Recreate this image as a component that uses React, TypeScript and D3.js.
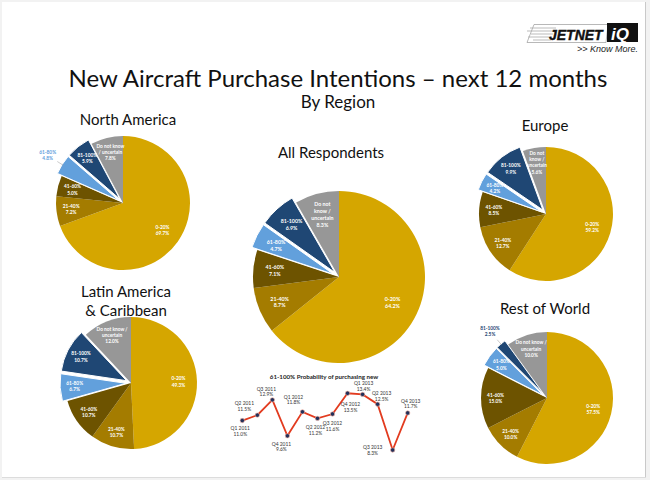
import React from 'react';
import * as d3 from 'd3';

// ---------- DATA ----------
const categories = ['0-20%', '21-40%', '41-60%', '61-80%', '81-100%', 'Do not know / uncertain'];
const northAmerica = [69.7, 7.2, 5.0, 4.8, 5.9, 7.8];
const europe = [59.2, 12.7, 8.5, 4.2, 9.9, 5.6];
const allRespondents = [64.2, 8.7, 7.1, 4.7, 6.9, 8.3];
const latinAmerica = [49.3, 10.7, 10.7, 6.7, 10.7, 12.0];
const restOfWorld = [57.5, 10.0, 15.0, 5.0, 2.5, 10.0];

// how the "Do not know / uncertain" label wraps in each pie
const dnkNorthAmerica = ['Do not know', '/ uncertain'];
const dnkEurope = ['Do not', 'know /', 'uncertain'];
const dnkAll = ['Do not', 'know /', 'uncertain'];
const dnkLatin = ['Do not know /', 'uncertain'];
const dnkRest = ['Do not know /', 'uncertain'];

const quarters = ['Q1 2011', 'Q2 2011', 'Q3 2011', 'Q4 2011', 'Q1 2012', 'Q2 2012', 'Q3 2012', 'Q4 2012', 'Q1 2013', 'Q2 2013', 'Q3 2013', 'Q4 2013'];
const probability = [11.0, 11.5, 12.9, 9.6, 11.8, 11.2, 11.6, 13.5, 13.4, 12.5, 8.3, 11.7];

// ---------- STYLE / LAYOUT ----------
const sliceColors = ['#D5A600', '#A47C00', '#6D5300', '#62A0DC', '#1F4774', '#979797'];
const explodedSlices = [3, 4];
const FONT = 'Lato, "Open Sans", "Liberation Sans", sans-serif';

// label offsets (dx, dy of first line centre) for the line chart
const lineLabelOffsets: [number, number][] = [
  [-2, 8], [-13, -12], [-6, -11], [-6, 8], [-9, -15], [-2, 9],
  [0, 9], [3, 11], [1, -11], [4, -11], [-20, -3], [3, -12],
];

type PieCfg = {
  title: string[];
  titleX: number;
  titleY: number;
  values: number[];
  dnk: string[];
  cx: number;
  cy: number;
  r: number;
  explode: number;
  font: number;
  outside: number | null;
  labelFrac: number;
};

const pies: PieCfg[] = [
  { title: ['North America'], titleX: 128, titleY: 125, values: northAmerica, dnk: dnkNorthAmerica, cx: 123, cy: 203, r: 67, explode: 5, font: 4.8, outside: 3, labelFrac: 0.78 },
  { title: ['Europe'], titleX: 545, titleY: 131, values: europe, dnk: dnkEurope, cx: 546, cy: 214, r: 67, explode: 5, font: 4.8, outside: null, labelFrac: 0.78 },
  { title: ['All Respondents'], titleX: 331, titleY: 158, values: allRespondents, dnk: dnkAll, cx: 339, cy: 277, r: 86, explode: 6, font: 5.3, outside: null, labelFrac: 0.75 },
  { title: ['Latin America', '& Caribbean'], titleX: 126, titleY: 297, values: latinAmerica, dnk: dnkLatin, cx: 131, cy: 383, r: 66, explode: 5, font: 4.8, outside: null, labelFrac: 0.78 },
  { title: ['Rest of World'], titleX: 545, titleY: 314, values: restOfWorld, dnk: dnkRest, cx: 547, cy: 398, r: 66, explode: 5, font: 4.8, outside: 4, labelFrac: 0.78 },
];

function PieChart({ cfg }: { cfg: PieCfg }) {
  const pie = d3.pie<number>().sort(null).value((d) => d);
  const arcs = pie(cfg.values);
  const arc = d3.arc<d3.PieArcDatum<number>>().innerRadius(0).outerRadius(cfg.r);
  return (
    <g>
      {cfg.title.map((t, i) => (
        <text key={i} x={cfg.titleX} y={cfg.titleY + i * 19} textAnchor="middle" fontFamily={FONT} fontSize={15} fill="#111">
          {t}
        </text>
      ))}
      <g transform={`translate(${cfg.cx},${cfg.cy})`}>
        {arcs.map((a, i) => {
          const mid = (a.startAngle + a.endAngle) / 2;
          const ex = explodedSlices.includes(i) ? cfg.explode : 0;
          const dx = Math.sin(mid) * ex;
          const dy = -Math.cos(mid) * ex;
          return (
            <path
              key={i}
              d={arc(a) || ''}
              transform={`translate(${dx},${dy})`}
              fill={sliceColors[i]}
              stroke={ex ? '#fff' : 'none'}
              strokeWidth={ex ? 1 : 0}
            />
          );
        })}
        {arcs.map((a, i) => {
          const mid = (a.startAngle + a.endAngle) / 2;
          const ex = explodedSlices.includes(i) ? cfg.explode : 0;
          const outside = cfg.outside === i;
          const frac = i === 0 ? cfg.labelFrac - 0.06 : cfg.labelFrac;
          const lr = outside ? cfg.r * 1.33 : cfg.r * frac + ex;
          const lx = Math.sin(mid) * lr;
          const ly = -Math.cos(mid) * lr;
          const lines = [...(i === 5 ? cfg.dnk : [categories[i]]), `${cfg.values[i].toFixed(1)}%`];
          const lh = cfg.font * 1.3;
          const y0 = ly - ((lines.length - 1) * lh) / 2;
          const color = outside ? (i === 4 ? '#1F4774' : sliceColors[i]) : '#fff';
          return (
            <g key={i}>
              {outside && (
                <line
                  x1={Math.sin(mid) * (cfg.r * 1.16)}
                  y1={-Math.cos(mid) * (cfg.r * 1.16)}
                  x2={Math.sin(mid) * (cfg.r * 0.98 + ex)}
                  y2={-Math.cos(mid) * (cfg.r * 0.98 + ex)}
                  stroke="#999"
                  strokeWidth={0.5}
                />
              )}
              {lines.map((t, k) => (
                <text
                  key={k}
                  x={lx}
                  y={y0 + k * lh}
                  dy="0.35em"
                  textAnchor="middle"
                  fontFamily={FONT}
                  fontWeight="bold"
                  fontSize={cfg.font}
                  fill={color}
                >
                  {t}
                </text>
              ))}
            </g>
          );
        })}
      </g>
    </g>
  );
}

function LineChart() {
  const x = d3.scalePoint<string>().domain(quarters).range([242.3, 407.7]);
  const y = d3.scaleLinear().domain([8.3, 13.5]).range([450, 393.3]);
  const line = d3
    .line<number>()
    .x((_, i) => x(quarters[i]) as number)
    .y((d) => y(d));
  return (
    <g>
      <text x={324} y={379} textAnchor="middle" fontFamily={FONT} fontWeight="bold" fontSize={6.2} fill="#222">
        61-100% Probability of purchasing new
      </text>
      <path d={line(probability) || ''} fill="none" stroke="#E23B1F" strokeWidth={1.8} />
      {probability.map((v, i) => (
        <circle key={i} cx={x(quarters[i])} cy={y(v)} r={2.2} fill="#22305A" stroke="#F3B3A5" strokeWidth={0.6} />
      ))}
      {probability.map((v, i) => {
        const [dx, dy] = lineLabelOffsets[i];
        const px = (x(quarters[i]) as number) + dx;
        const py = y(v) + dy;
        return (
          <g key={i} fontFamily={FONT} fontSize={4.9} fill="#333" textAnchor="middle">
            <text x={px} y={py} dy="0.35em">{quarters[i]}</text>
            <text x={px} y={py + 5.8} dy="0.35em">{`${v.toFixed(1)}%`}</text>
          </g>
        );
      })}
    </g>
  );
}

function Logo() {
  const speed = [
    [530, 556, 28], [527, 554, 31], [531, 553, 34], [528, 552, 37], [533, 551, 40],
  ];
  return (
    <g>
      <polygon points="534,24.5 608,24.5 606,42.5 527,42.5" fill="none" stroke="#9a9a9a" strokeWidth={0.7} />
      {speed.map(([a, b, yy], i) => (
        <line key={i} x1={a} x2={b} y1={yy} y2={yy} stroke="#aaa" strokeWidth={0.8} />
      ))}
      <text x={549} y={40} fontFamily='"Liberation Sans", Arial, sans-serif' fontWeight="bold" fontStyle="italic" fontSize={14} fill="#111" stroke="#111" strokeWidth={0.4}>
        JETNET
      </text>
      <rect x={607} y={23} width={31} height={19} fill="#111" />
      <text x={611} y={39.5} fontFamily='"Liberation Sans", Arial, sans-serif' fontWeight="bold" fontStyle="italic" fontSize={17} fill="#fff">
        iQ
      </text>
      <text x={638} y={52} textAnchor="end" fontFamily='"Liberation Sans", Arial, sans-serif' fontStyle="italic" fontSize={9} fill="#222">
        {'>> Know More.'}
      </text>
    </g>
  );
}

export default function App() {
  return (
    <svg width={650} height={480} style={{ position: 'absolute', left: 0, top: 0 }}>
      <rect x={0} y={0} width={650} height={480} fill="#f2f2f2" />
      <rect x={2} y={2} width={643} height={475} fill="#fff" />
      <line x1={645.5} y1={2} x2={645.5} y2={477} stroke="#c9c9c9" strokeWidth={1} />
      <line x1={2} y1={477.5} x2={646} y2={477.5} stroke="#dcdcdc" strokeWidth={1} />
      <Logo />
      <text x={338} y={87} textAnchor="middle" fontFamily={FONT} fontSize={24} fill="#111">
        New Aircraft Purchase Intentions – next 12 months
      </text>
      <text x={338} y={108} textAnchor="middle" fontFamily={FONT} fontSize={17} fill="#111">
        By Region
      </text>
      {pies.map((p, i) => (
        <PieChart key={i} cfg={p} />
      ))}
      <LineChart />
    </svg>
  );
}
